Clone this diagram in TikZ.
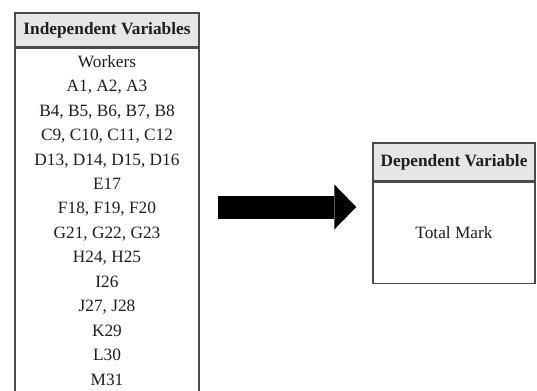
\documentclass[tikz,border=0pt]{standalone}
\usepackage{fontspec}
\setmainfont{Liberation Serif}
\usetikzlibrary{arrows.meta,positioning}
\definecolor{headFill}{HTML}{E6E6E6}
\definecolor{boxStroke}{HTML}{4A4A4A}
\definecolor{textMain}{HTML}{1E1E1E}

\begin{document}
\begin{tikzpicture}[
    font=\fontsize{12.3}{17.4}\selectfont,
    headNode/.style={
        rectangle,
        draw=boxStroke, line width=1pt,
        fill=headFill, text=textMain,
        font=\fontsize{12.3}{14}\selectfont\bfseries,
        inner sep=0pt, align=center
    },
    bodyNode/.style={
        rectangle,
        draw=boxStroke, line width=1pt,
        fill=white, text=textMain,
        inner sep=0pt, align=center
    },
    listText/.style={text=textMain, align=center, inner sep=0pt},
    blockArrow/.style={
        -{Triangle[length=0.55cm, width=1.125cm, line width=0pt]},
        line width=0.575cm, draw=black
    }
]
\useasboundingbox (0,0) rectangle (13.425,9.75);
\clip (0,0) rectangle (13.425,9.75);

% left table runs on past the lower edge
\node[headNode, minimum width=4.6cm, minimum height=0.85cm] (IndepHead) at (2.675,9.0) {Independent Variables};
\node[bodyNode, anchor=north, minimum width=4.6cm, minimum height=9.5cm] (IndepBody) at (IndepHead.south) {};
\node[listText, anchor=north] (IndepList) at ([yshift=-0.18cm]IndepBody.north)
  {Workers\\A1, A2, A3\\B4, B5, B6, B7, B8\\C9, C10, C11, C12\\D13, D14, D15, D16\\E17\\F18, F19, F20\\G21, G22, G23\\H24, H25\\I26\\J27, J28\\K29\\L30\\M31};

\node[headNode, minimum width=4.05cm, minimum height=0.95cm] (DepHead) at (11.35,5.7) {Dependent Variable};
\node[bodyNode, anchor=north, minimum width=4.05cm, minimum height=2.525cm] (DepBody) at (DepHead.south) {Total Mark};

\coordinate (ArrowY) at (7.0,4.575);
\draw[blockArrow, shorten <=0.45cm, shorten >=0.4cm] (IndepBody.east |- ArrowY) -- (DepBody.west |- ArrowY);

\end{tikzpicture}
\end{document}
